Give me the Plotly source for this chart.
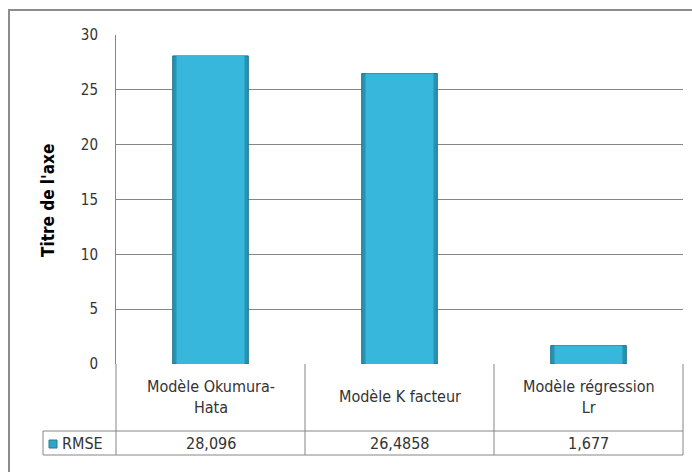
import plotly.graph_objects as go

# Données : erreur quadratique moyenne par modèle
categories = ["Modèle Okumura-Hata", "Modèle K facteur", "Modèle régression Lr"]
header_labels = ["Modèle Okumura-<br>Hata", "Modèle K facteur", "Modèle régression<br>Lr"]
rmse_values = [28.096, 26.4858, 1.677]
rmse_labels = ["28,096", "26,4858", "1,677"]
series_name = "RMSE"
y_ticks = [0, 5, 10, 15, 20, 25, 30]

W, H = 692, 472
L, R, T, B = 116, 9, 35, 108
PW, PH = W - L - R, H - T - B

def px(x):
    return (x - L) / PW

def py(y):
    return (H - B - y) / PH

GRID = "#868686"
TXT = "#333333"
FONT = "DejaVu Sans Condensed, Roboto, sans-serif"

fig = go.Figure()
# bevelled column: darker outer body with a lighter face on top
fig.add_trace(go.Bar(
    x=categories, y=rmse_values, name=series_name, width=0.40,
    marker=dict(color="#2792B2", line=dict(color="#1C7590", width=1)),
    showlegend=False, hoverinfo="x+y",
))
fig.add_trace(go.Bar(
    x=categories, y=rmse_values, name=series_name, width=0.36,
    marker=dict(color="#36B7DB", line=dict(width=0)),
    showlegend=False, hoverinfo="skip",
))

shapes = []
# outer chart frame (runs past the right and bottom edges)
shapes.append(dict(type="rect", xref="paper", yref="paper",
                   x0=px(9), x1=px(720), y0=py(500), y1=py(10),
                   line=dict(color="#8C8C8C", width=2), layer="below"))
# data table grid
tbl_top, tbl_mid, tbl_bot = 364, 431, 455
col_edges = [116, 305, 494, 683]
for xe in col_edges:
    shapes.append(dict(type="line", xref="paper", yref="paper",
                       x0=px(xe), x1=px(xe), y0=py(tbl_top), y1=py(tbl_bot),
                       line=dict(color=GRID, width=1)))
shapes.append(dict(type="line", xref="paper", yref="paper",
                   x0=px(43), x1=px(43), y0=py(tbl_mid), y1=py(tbl_bot),
                   line=dict(color=GRID, width=1)))
for ye in (tbl_mid, tbl_bot):
    shapes.append(dict(type="line", xref="paper", yref="paper",
                       x0=px(43), x1=px(683), y0=py(ye), y1=py(ye),
                       line=dict(color=GRID, width=1)))
# legend key square
shapes.append(dict(type="rect", xref="paper", yref="paper",
                   x0=px(49), x1=px(57), y0=py(448), y1=py(440),
                   fillcolor="#2FA6C8", line=dict(color="#1E7E99", width=1)))

annotations = []
for cat, hl, lab in zip(categories, header_labels, rmse_labels):
    annotations.append(dict(x=cat, xref="x", y=py((tbl_top + tbl_mid) / 2 - 1), yref="paper",
                            text=hl, showarrow=False, xanchor="center", yanchor="middle",
                            font=dict(family=FONT, size=16, color=TXT)))
    annotations.append(dict(x=cat, xref="x", y=py((tbl_mid + tbl_bot) / 2), yref="paper",
                            text=lab, showarrow=False, xanchor="center", yanchor="middle",
                            font=dict(family=FONT, size=16, color=TXT)))
annotations.append(dict(x=px(60), xref="paper", y=py((tbl_mid + tbl_bot) / 2), yref="paper",
                        text=series_name, showarrow=False, xanchor="left", yanchor="middle",
                        font=dict(family=FONT, size=16, color=TXT)))
annotations.append(dict(x=px(48), xref="paper", y=py(201), yref="paper",
                        text="<b>Titre de l'axe</b>", showarrow=False, textangle=-90,
                        xanchor="center", yanchor="middle",
                        font=dict(family=FONT, size=17, color="#000000")))

fig.update_layout(
    width=W, height=H,
    margin=dict(l=L, r=R, t=T, b=B, pad=0),
    paper_bgcolor="white", plot_bgcolor="white",
    shapes=shapes, annotations=annotations,
    barmode="overlay",
    xaxis=dict(showticklabels=False, showgrid=False, zeroline=False, showline=False,
               range=[-0.5, 2.5]),
    yaxis=dict(range=[0, 30], tickvals=y_ticks, showgrid=True, gridcolor=GRID, gridwidth=1,
               zeroline=False, showline=True, linecolor=GRID, linewidth=1,
               ticks="", ticklabelstandoff=14,
               tickfont=dict(family=FONT, size=15, color=TXT)),
)

fig.write_html("out.html")
